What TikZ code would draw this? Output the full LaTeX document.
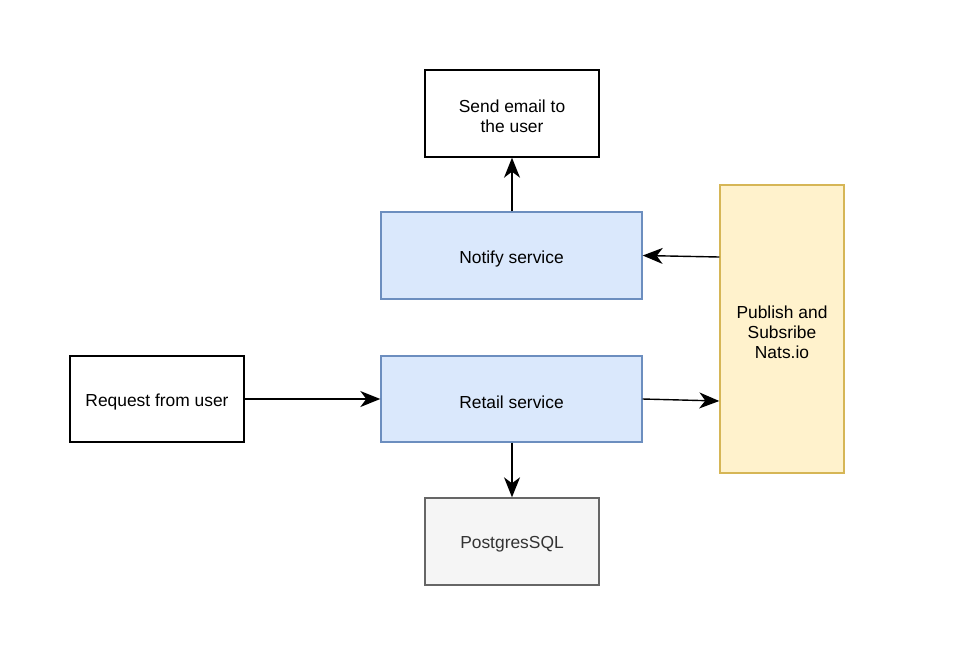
\documentclass[tikz,border=0pt]{standalone}
\usepackage{fontspec}
\setmainfont{Liberation Sans}
\usetikzlibrary{arrows.meta}
\definecolor{blueF}{HTML}{DAE8FC}
\definecolor{blueS}{HTML}{6C8EBF}
\definecolor{yelF}{HTML}{FFF2CC}
\definecolor{yelS}{HTML}{D6B656}
\definecolor{grayF}{HTML}{F5F5F5}
\definecolor{grayS}{HTML}{666666}
\definecolor{grayT}{HTML}{333333}
\begin{document}
\begin{tikzpicture}[x=1pt,y=-1pt,
  box/.style={draw, line width=1.4pt, inner sep=0pt, align=center,
    font=\fontsize{17.4}{20}\selectfont},
  txt/.style={label={[align=center, font=\fontsize{17.4}{20}\selectfont, yshift=-3pt]center:#1}},
  bluebox/.style={box, fill=blueF, draw=blueS},
  conn/.style={line width=1.4pt, -{Stealth[length=20pt,width=16pt,inset=6pt]}}]
\useasboundingbox (0,0) rectangle (963,657);
\node[box, minimum width=174pt, minimum height=87pt, txt={Send email to\\the user}] (email) at (512,113.5) {};
\node[bluebox, minimum width=261pt, minimum height=87pt, txt={Notify service}] (notify) at (511.5,255.5) {};
\node[bluebox, minimum width=261pt, minimum height=86pt, txt={Retail service}] (retail) at (511.5,399) {};
\node[box, minimum width=174pt, minimum height=86pt, txt={Request from user}] (req) at (157,399) {};
\node[box, fill=grayF, draw=grayS, minimum width=174pt, minimum height=87pt, txt={\textcolor{grayT}{PostgresSQL}}] (pg) at (512,541.5) {};
\node[box, fill=yelF, draw=yelS, minimum width=124pt, minimum height=288pt, txt={Publish and\\Subsribe\\Nats.io}] (nats) at (782,329) {};
\draw[conn] (notify.north -| email.south) -- (email.south);
\draw[conn] (nats.west |- 0,257) -- (notify.east);
\draw[conn] (req.east) -- (retail.west);
\draw[conn] (retail.east) -- (nats.west |- 0,401);
\draw[conn] (retail.south -| pg.north) -- (pg.north);
\end{tikzpicture}
\end{document}
